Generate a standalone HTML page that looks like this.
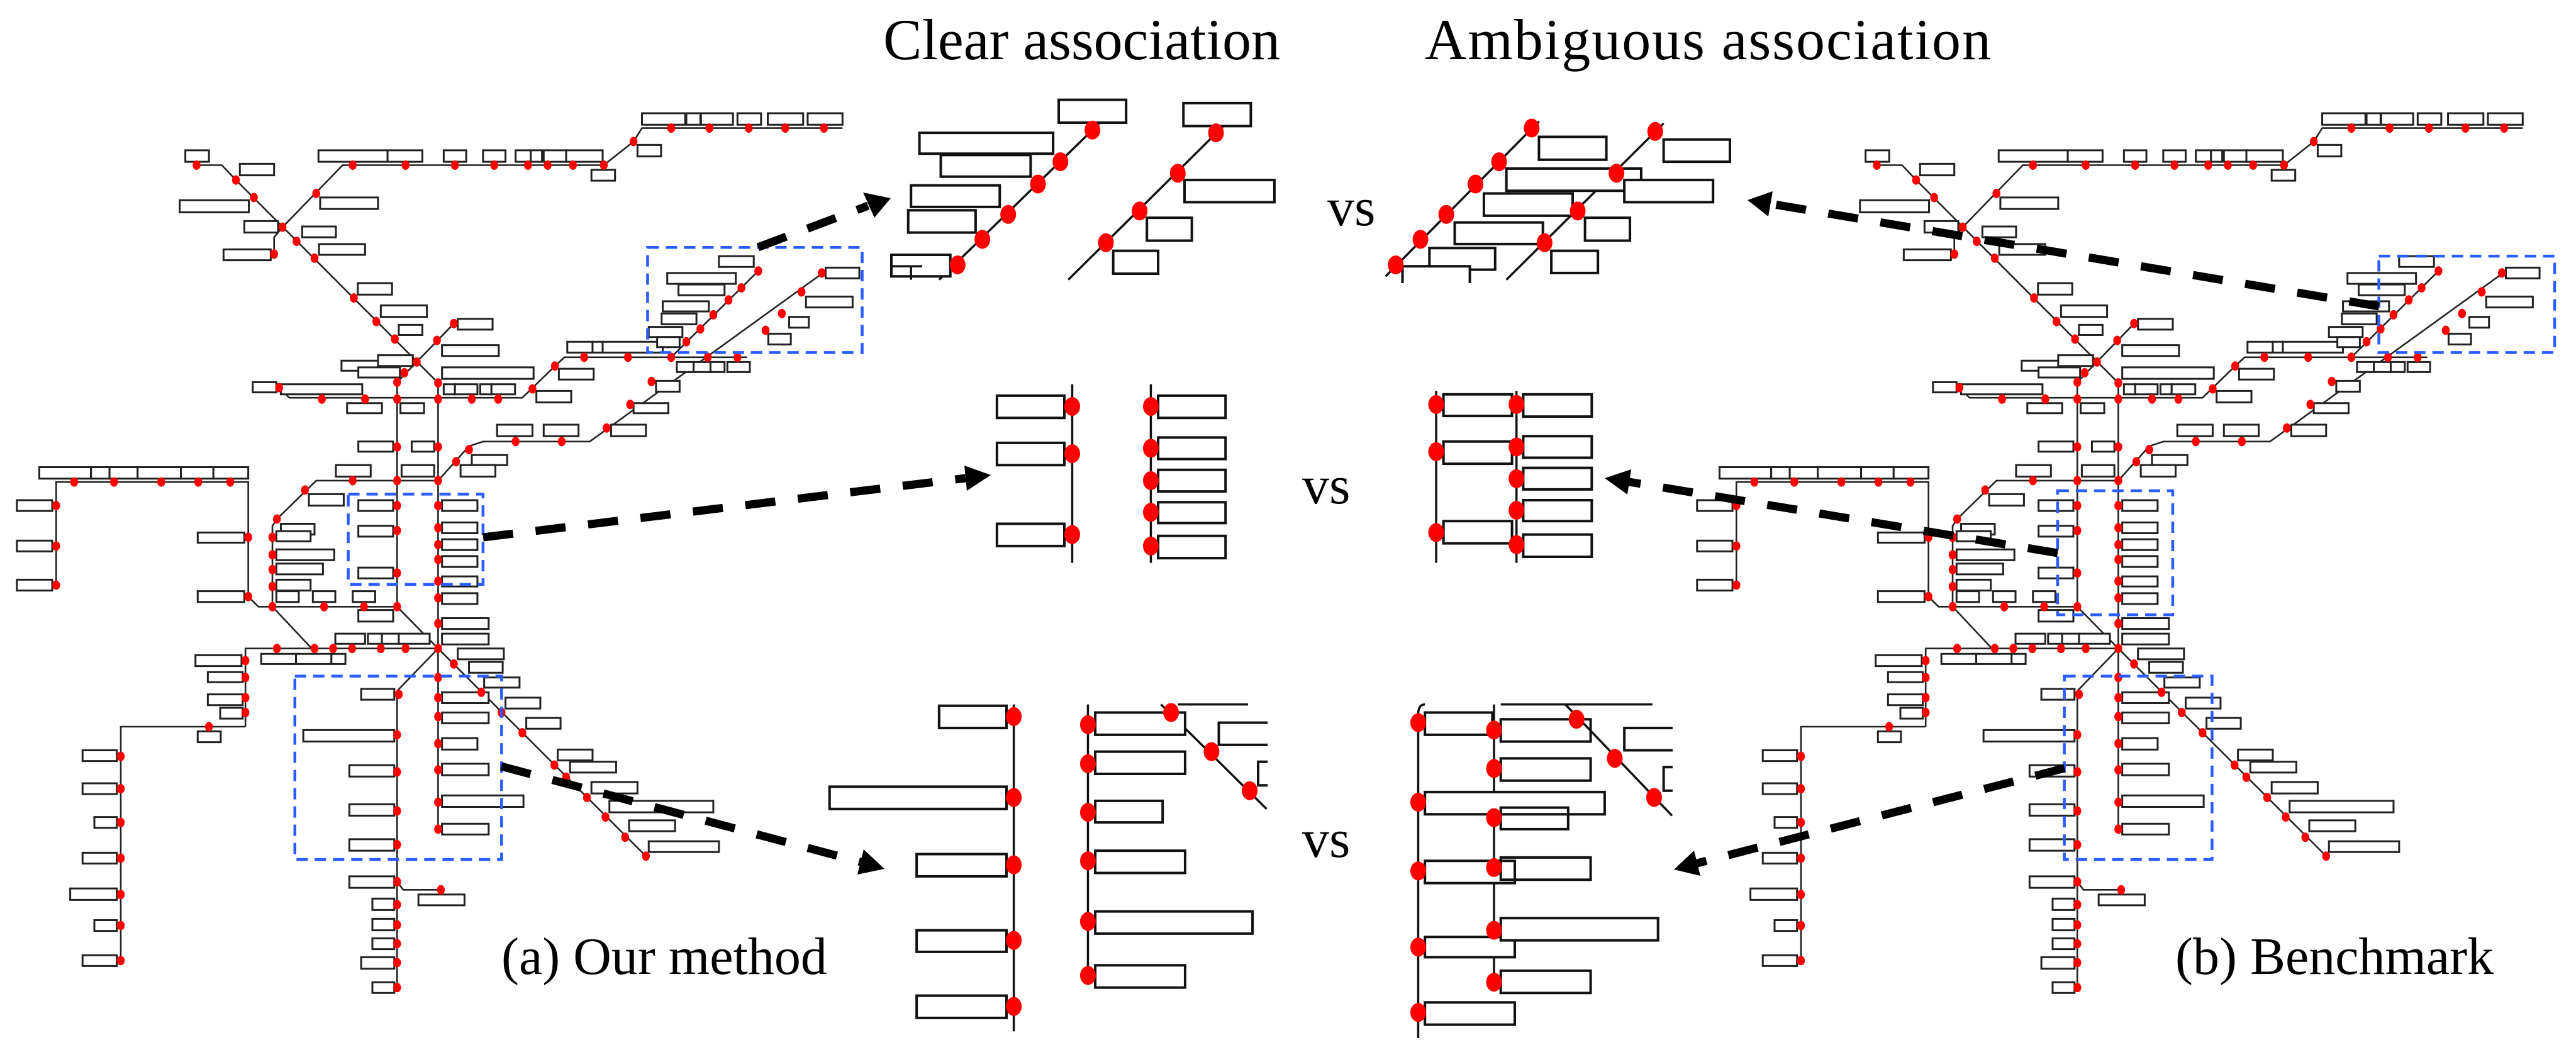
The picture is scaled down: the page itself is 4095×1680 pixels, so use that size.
<!DOCTYPE html>
<html><head><meta charset="utf-8"><style>
html,body{margin:0;padding:0;background:#fff;}
svg{display:block}
svg *{vector-effect:non-scaling-stroke}
.ln{fill:none;stroke:#222;stroke-width:2.6}
.bx rect{fill:#fff;stroke:#222;stroke-width:3}
.dt circle{fill:#ff0000}
.bl{fill:none;stroke:#2a5cff;stroke-width:4.5;stroke-dasharray:18 11}
.pb rect{fill:#fff;stroke:#111;stroke-width:4}
.pl{fill:none;stroke:#111;stroke-width:3.5}
.pd circle{fill:#ff0000}
.ar{fill:none;stroke:#000;stroke-width:13;stroke-dasharray:48 36}
text{font-family:"Liberation Serif",serif;fill:#000}
</style></head><body>
<svg width="4095" height="1680" viewBox="0 0 4095 1680" xmlns="http://www.w3.org/2000/svg">
<defs>
<g id="map">
<path class="ln" d="M1500,190 H1143 L1128,210 L1075,245 H610 L503,337 M350,245 H395 L420,267 L780,568 V1230 M503,337 L488,352 V377 M808,480 L707,567 V900 M497,575 L515,590 H930 L988,543 L1005,530 H1330 M1195,530 L1350,402 M780,713 L835,662 L860,655 H1050 L1465,405 M780,713 H563 L493,770 L485,780 V900 H707 M100,868 V715 H442 V885 L460,900 H485 M485,900 L555,962 M707,900 L780,962 L1150,1270 M437,1078 V962 H780 M437,1078 H215 V1425 M780,962 L707,1025 V1465 M707,1308 L718,1320 H785"/>
<g class="bx">
<rect x="1143" y="168" width="77" height="17"/><rect x="1222" y="168" width="25" height="17"/><rect x="1248" y="168" width="57" height="17"/><rect x="1313" y="168" width="42" height="17"/><rect x="1367" y="168" width="63" height="17"/><rect x="1438" y="168" width="62" height="17"/>
<rect x="1135" y="215" width="42" height="17"/>
<rect x="567" y="223" width="123" height="17"/><rect x="690" y="223" width="62" height="17"/><rect x="790" y="223" width="40" height="17"/><rect x="860" y="223" width="40" height="17"/><rect x="918" y="223" width="27" height="17"/><rect x="945" y="223" width="20" height="17"/><rect x="968" y="223" width="40" height="17"/><rect x="1008" y="223" width="65" height="17"/>
<rect x="1053" y="252" width="42" height="16"/><rect x="570" y="293" width="103" height="17"/>
<rect x="330" y="223" width="42" height="17"/><rect x="427" y="243" width="61" height="17"/><rect x="320" y="297" width="123" height="18"/><rect x="435" y="328" width="60" height="17"/><rect x="538" y="336" width="60" height="16"/><rect x="568" y="362" width="82" height="16"/><rect x="398" y="370" width="84" height="16"/>
<rect x="637" y="420" width="61" height="17"/><rect x="678" y="453" width="82" height="17"/><rect x="710" y="482" width="42" height="15"/>
<rect x="815" y="473" width="62" height="16"/><rect x="787" y="512" width="101" height="16"/><rect x="787" y="545" width="163" height="17"/><rect x="608" y="535" width="102" height="15"/><rect x="638" y="545" width="74" height="15"/><rect x="673" y="527" width="62" height="16"/>
<rect x="450" y="567" width="42" height="15"/><rect x="500" y="570" width="145" height="15"/><rect x="618" y="598" width="62" height="15"/><rect x="713" y="598" width="42" height="15"/><rect x="790" y="570" width="20" height="15"/><rect x="810" y="570" width="40" height="15"/><rect x="855" y="570" width="20" height="15"/><rect x="875" y="570" width="42" height="15"/>
<rect x="955" y="580" width="62" height="17"/><rect x="995" y="547" width="62" height="16"/><rect x="1010" y="507" width="45" height="16"/><rect x="1055" y="507" width="18" height="16"/><rect x="1073" y="507" width="107" height="16"/>
<rect x="1205" y="537" width="30" height="15"/><rect x="1235" y="537" width="30" height="15"/><rect x="1265" y="537" width="25" height="15"/><rect x="1295" y="537" width="40" height="15"/>
<rect x="1280" y="380" width="62" height="16"/><rect x="1188" y="405" width="122" height="16"/><rect x="1208" y="422" width="82" height="16"/><rect x="1180" y="447" width="82" height="15"/><rect x="1178" y="465" width="62" height="16"/><rect x="1155" y="485" width="60" height="15"/><rect x="1170" y="500" width="40" height="15"/>
<rect x="885" y="630" width="63" height="17"/><rect x="968" y="630" width="62" height="17"/><rect x="1088" y="630" width="62" height="17"/><rect x="1128" y="598" width="62" height="15"/><rect x="1168" y="565" width="42" height="16"/><rect x="840" y="675" width="63" height="15"/><rect x="820" y="690" width="62" height="17"/>
<rect x="1405" y="470" width="35" height="16"/><rect x="1435" y="440" width="83" height="16"/><rect x="1470" y="397" width="60" height="16"/><rect x="1368" y="495" width="40" height="16"/>
<rect x="638" y="655" width="62" height="15"/><rect x="733" y="655" width="40" height="15"/><rect x="715" y="690" width="58" height="17"/><rect x="598" y="690" width="62" height="17"/>
<rect x="638" y="742" width="62" height="16"/><rect x="638" y="780" width="62" height="16"/><rect x="638" y="842" width="62" height="16"/><rect x="638" y="905" width="62" height="17"/>
<rect x="787" y="742" width="63" height="16"/><rect x="787" y="775" width="63" height="16"/><rect x="787" y="800" width="63" height="16"/><rect x="787" y="825" width="63" height="16"/><rect x="787" y="855" width="63" height="15"/><rect x="787" y="880" width="63" height="16"/><rect x="787" y="917" width="83" height="16"/><rect x="787" y="940" width="83" height="16"/><rect x="815" y="962" width="82" height="16"/><rect x="835" y="982" width="60" height="16"/>
<rect x="550" y="733" width="62" height="17"/><rect x="500" y="777" width="60" height="16"/><rect x="492" y="788" width="61" height="15"/><rect x="492" y="815" width="103" height="16"/><rect x="492" y="836" width="83" height="16"/><rect x="492" y="860" width="61" height="16"/><rect x="492" y="877" width="40" height="16"/><rect x="557" y="877" width="40" height="16"/><rect x="628" y="877" width="40" height="16"/>
<rect x="70" y="693" width="92" height="17"/><rect x="162" y="693" width="33" height="17"/><rect x="195" y="693" width="50" height="17"/><rect x="245" y="693" width="77" height="17"/><rect x="322" y="693" width="58" height="17"/><rect x="380" y="693" width="62" height="17"/>
<rect x="30" y="742" width="63" height="16"/><rect x="30" y="802" width="63" height="16"/><rect x="30" y="860" width="63" height="16"/><rect x="352" y="790" width="83" height="15"/><rect x="352" y="877" width="83" height="16"/>
<rect x="597" y="940" width="53" height="15"/><rect x="655" y="940" width="25" height="15"/><rect x="680" y="940" width="30" height="15"/><rect x="710" y="940" width="55" height="15"/><rect x="465" y="970" width="62" height="15"/><rect x="527" y="970" width="63" height="15"/><rect x="590" y="970" width="25" height="15"/>
<rect x="348" y="972" width="82" height="16"/><rect x="370" y="997" width="62" height="15"/><rect x="370" y="1030" width="62" height="16"/><rect x="392" y="1050" width="40" height="16"/><rect x="352" y="1085" width="41" height="16"/>
<rect x="147" y="1113" width="61" height="16"/><rect x="147" y="1162" width="61" height="16"/><rect x="168" y="1212" width="40" height="16"/><rect x="147" y="1265" width="61" height="16"/><rect x="125" y="1318" width="83" height="17"/><rect x="168" y="1365" width="40" height="16"/><rect x="147" y="1417" width="61" height="16"/>
<rect x="643" y="1022" width="59" height="16"/><rect x="540" y="1083" width="162" height="17"/><rect x="622" y="1135" width="80" height="17"/><rect x="622" y="1193" width="80" height="17"/><rect x="622" y="1245" width="80" height="17"/><rect x="622" y="1300" width="80" height="17"/><rect x="663" y="1333" width="39" height="17"/><rect x="663" y="1363" width="39" height="17"/><rect x="663" y="1392" width="39" height="16"/><rect x="643" y="1420" width="59" height="17"/><rect x="663" y="1457" width="39" height="16"/><rect x="745" y="1327" width="82" height="16"/>
<rect x="787" y="1027" width="83" height="16"/><rect x="787" y="1057" width="83" height="16"/><rect x="787" y="1095" width="63" height="17"/><rect x="787" y="1133" width="83" height="17"/><rect x="787" y="1180" width="145" height="17"/><rect x="787" y="1222" width="83" height="16"/>
<rect x="862" y="1005" width="63" height="15"/><rect x="900" y="1035" width="62" height="16"/><rect x="937" y="1065" width="61" height="16"/><rect x="993" y="1112" width="62" height="16"/><rect x="1015" y="1130" width="82" height="16"/><rect x="1053" y="1160" width="82" height="17"/><rect x="1085" y="1188" width="185" height="17"/><rect x="1120" y="1217" width="82" height="16"/><rect x="1155" y="1248" width="125" height="16"/>
</g>
<g class="dt">
<circle cx="1195" cy="190" r="7"/><circle cx="1263" cy="190" r="7"/><circle cx="1333" cy="190" r="7"/><circle cx="1398" cy="190" r="7"/><circle cx="1467" cy="190" r="7"/><circle cx="1128" cy="210" r="7"/><circle cx="1075" cy="245" r="7"/><circle cx="1020" cy="245" r="7"/><circle cx="975" cy="245" r="7"/><circle cx="940" cy="245" r="7"/><circle cx="880" cy="245" r="7"/><circle cx="810" cy="245" r="7"/><circle cx="722" cy="245" r="7"/><circle cx="628" cy="245" r="7"/><circle cx="563" cy="287" r="7"/>
<circle cx="350" cy="245" r="7"/><circle cx="420" cy="267" r="7"/><circle cx="452" cy="293" r="7"/><circle cx="503" cy="337" r="7"/><circle cx="528" cy="358" r="7"/><circle cx="560" cy="383" r="7"/><circle cx="488" cy="377" r="7"/><circle cx="630" cy="442" r="7"/><circle cx="670" cy="477" r="7"/><circle cx="703" cy="503" r="7"/><circle cx="742" cy="537" r="7"/><circle cx="808" cy="480" r="7"/><circle cx="778" cy="505" r="7"/><circle cx="720" cy="553" r="7"/><circle cx="707" cy="567" r="7"/><circle cx="780" cy="568" r="7"/>
<circle cx="497" cy="575" r="7"/><circle cx="573" cy="592" r="7"/><circle cx="650" cy="592" r="7"/><circle cx="707" cy="592" r="7"/><circle cx="780" cy="592" r="7"/><circle cx="840" cy="592" r="7"/><circle cx="887" cy="592" r="7"/><circle cx="948" cy="577" r="7"/><circle cx="988" cy="543" r="7"/><circle cx="1040" cy="530" r="7"/><circle cx="1118" cy="530" r="7"/><circle cx="1195" cy="530" r="7"/><circle cx="1260" cy="530" r="7"/><circle cx="1313" cy="530" r="7"/>
<circle cx="1222" cy="507" r="7"/><circle cx="1247" cy="488" r="7"/><circle cx="1270" cy="467" r="7"/><circle cx="1297" cy="445" r="7"/><circle cx="1320" cy="427" r="7"/><circle cx="1350" cy="402" r="7"/>
<circle cx="1363" cy="490" r="7"/><circle cx="1392" cy="465" r="7"/><circle cx="1427" cy="433" r="7"/><circle cx="1463" cy="405" r="7"/><circle cx="1080" cy="635" r="7"/><circle cx="1122" cy="600" r="7"/><circle cx="1160" cy="566" r="7"/>
<circle cx="812" cy="685" r="7"/><circle cx="835" cy="667" r="7"/><circle cx="918" cy="655" r="7"/><circle cx="1000" cy="655" r="7"/>
<circle cx="707" cy="663" r="7"/><circle cx="707" cy="713" r="7"/><circle cx="707" cy="750" r="7"/><circle cx="707" cy="787" r="7"/><circle cx="707" cy="850" r="7"/><circle cx="707" cy="900" r="7"/>
<circle cx="780" cy="663" r="7"/><circle cx="780" cy="713" r="7"/><circle cx="780" cy="750" r="7"/><circle cx="780" cy="783" r="7"/><circle cx="780" cy="808" r="7"/><circle cx="780" cy="830" r="7"/><circle cx="780" cy="862" r="7"/><circle cx="780" cy="887" r="7"/><circle cx="780" cy="925" r="7"/><circle cx="780" cy="962" r="7"/>
<circle cx="543" cy="727" r="7"/><circle cx="628" cy="713" r="7"/><circle cx="493" cy="770" r="7"/><circle cx="485" cy="797" r="7"/><circle cx="485" cy="823" r="7"/><circle cx="485" cy="845" r="7"/><circle cx="485" cy="870" r="7"/><circle cx="485" cy="900" r="7"/><circle cx="577" cy="900" r="7"/><circle cx="648" cy="900" r="7"/>
<circle cx="132" cy="715" r="7"/><circle cx="203" cy="715" r="7"/><circle cx="287" cy="715" r="7"/><circle cx="353" cy="715" r="7"/><circle cx="410" cy="715" r="7"/><circle cx="100" cy="750" r="7"/><circle cx="100" cy="810" r="7"/><circle cx="100" cy="868" r="7"/><circle cx="442" cy="797" r="7"/><circle cx="442" cy="885" r="7"/>
<circle cx="493" cy="962" r="7"/><circle cx="560" cy="962" r="7"/><circle cx="593" cy="962" r="7"/><circle cx="627" cy="962" r="7"/><circle cx="678" cy="962" r="7"/><circle cx="722" cy="962" r="7"/>
<circle cx="437" cy="980" r="7"/><circle cx="437" cy="1005" r="7"/><circle cx="437" cy="1035" r="7"/><circle cx="437" cy="1057" r="7"/><circle cx="372" cy="1078" r="7"/>
<circle cx="215" cy="1122" r="7"/><circle cx="215" cy="1170" r="7"/><circle cx="215" cy="1220" r="7"/><circle cx="215" cy="1273" r="7"/><circle cx="215" cy="1327" r="7"/><circle cx="215" cy="1373" r="7"/><circle cx="215" cy="1425" r="7"/>
<circle cx="710" cy="1030" r="7"/><circle cx="707" cy="1090" r="7"/><circle cx="707" cy="1145" r="7"/><circle cx="707" cy="1203" r="7"/><circle cx="707" cy="1253" r="7"/><circle cx="707" cy="1308" r="7"/><circle cx="707" cy="1342" r="7"/><circle cx="707" cy="1372" r="7"/><circle cx="707" cy="1400" r="7"/><circle cx="707" cy="1428" r="7"/><circle cx="707" cy="1465" r="7"/><circle cx="785" cy="1320" r="7"/>
<circle cx="780" cy="1005" r="7"/><circle cx="780" cy="1035" r="7"/><circle cx="780" cy="1063" r="7"/><circle cx="780" cy="1103" r="7"/><circle cx="780" cy="1142" r="7"/><circle cx="780" cy="1190" r="7"/><circle cx="780" cy="1230" r="7"/>
<circle cx="808" cy="985" r="7"/><circle cx="857" cy="1027" r="7"/><circle cx="893" cy="1057" r="7"/><circle cx="930" cy="1087" r="7"/><circle cx="987" cy="1135" r="7"/><circle cx="1008" cy="1153" r="7"/><circle cx="1045" cy="1183" r="7"/><circle cx="1078" cy="1212" r="7"/><circle cx="1113" cy="1242" r="7"/><circle cx="1150" cy="1270" r="7"/>
</g>
</g>
</defs>

<g transform="scale(0.89286,1.07143)">
<use href="#map"/>
<rect class="bl" x="1153" y="367" width="382" height="156"/>
<rect class="bl" x="620" y="733" width="240" height="134"/>
<rect class="bl" x="525" y="1003" width="368" height="272"/>
</g>
<g transform="translate(2671,0) scale(0.89286,1.07143)">
<use href="#map"/>
</g>
<g transform="translate(2695,0) scale(0.89286,1.07143)">
<rect class="bl" x="1217" y="380" width="313" height="143"/>
<rect class="bl" x="645" y="728" width="205" height="184"/>
<rect class="bl" x="657" y="1003" width="263" height="272"/>
</g>

<g transform="translate(1350,0) scale(0.89286,1.07143)">
<path class="pl" d="M160,415 L445,183 M390,415 L665,188"/>
<g class="pb">
<rect x="373" y="148" width="120" height="34"/><rect x="125" y="197" width="238" height="31"/><rect x="163" y="230" width="160" height="32"/><rect x="110" y="275" width="158" height="32"/><rect x="105" y="312" width="120" height="33"/><rect x="75" y="378" width="105" height="32"/>
<rect x="595" y="153" width="120" height="34"/><rect x="597" y="267" width="160" height="33"/><rect x="530" y="323" width="80" height="34"/><rect x="470" y="372" width="80" height="34"/>
</g>
<path class="pl" d="M75,395 H130 M110,395 V415"/>
<g class="pd"><circle cx="433" cy="193" r="14"/><circle cx="376" cy="240" r="14"/><circle cx="336" cy="273" r="14"/><circle cx="283" cy="318" r="14"/><circle cx="237" cy="355" r="14"/><circle cx="193" cy="393" r="14"/><circle cx="653" cy="197" r="14"/><circle cx="585" cy="257" r="14"/><circle cx="517" cy="313" r="14"/><circle cx="457" cy="360" r="14"/></g>
<path class="pl" d="M955,410 L1228,180 M1170,415 L1450,183"/>
<g class="pb">
<rect x="1228" y="203" width="120" height="34"/><rect x="1450" y="207" width="118" height="33"/><rect x="1170" y="250" width="240" height="33"/><rect x="1380" y="267" width="158" height="33"/><rect x="1130" y="287" width="158" height="33"/><rect x="1310" y="323" width="80" height="34"/><rect x="1078" y="330" width="157" height="32"/><rect x="1033" y="368" width="117" height="32"/><rect x="1250" y="372" width="83" height="33"/><rect x="985" y="395" width="120" height="30"/>
</g>
<path class="pl" d="M1170,250 H1410 M1380,267 V283"/>
<g class="pd"><circle cx="1215" cy="190" r="14"/><circle cx="1157" cy="240" r="14"/><circle cx="1115" cy="273" r="14"/><circle cx="1063" cy="318" r="14"/><circle cx="1017" cy="355" r="14"/><circle cx="973" cy="393" r="14"/><circle cx="1435" cy="195" r="14"/><circle cx="1366" cy="257" r="14"/><circle cx="1297" cy="313" r="14"/><circle cx="1238" cy="360" r="14"/></g>
<rect x="940" y="420" width="640" height="20" fill="#fff"/>
<rect x="60" y="418" width="700" height="20" fill="#fff"/>

<path class="pl" d="M397,570 V835 M537,570 V835"/>
<g class="pb">
<rect x="263" y="587" width="120" height="33"/><rect x="263" y="657" width="120" height="33"/><rect x="263" y="777" width="120" height="33"/>
<rect x="550" y="587" width="120" height="33"/><rect x="550" y="649" width="120" height="32"/><rect x="550" y="697" width="120" height="32"/><rect x="550" y="745" width="120" height="31"/><rect x="550" y="795" width="120" height="33"/>
</g>
<g class="pd"><circle cx="397" cy="603" r="14"/><circle cx="397" cy="673" r="14"/><circle cx="397" cy="793" r="14"/><circle cx="537" cy="603" r="14"/><circle cx="537" cy="665" r="14"/><circle cx="537" cy="713" r="14"/><circle cx="537" cy="760" r="14"/><circle cx="537" cy="810" r="14"/></g>
<path class="pl" d="M1045,580 V835 M1188,580 V835"/>
<g class="pb">
<rect x="1058" y="585" width="122" height="32"/><rect x="1058" y="655" width="122" height="33"/><rect x="1058" y="773" width="122" height="33"/>
<rect x="1200" y="585" width="122" height="33"/><rect x="1200" y="647" width="122" height="32"/><rect x="1200" y="694" width="122" height="32"/><rect x="1200" y="742" width="122" height="31"/><rect x="1200" y="793" width="122" height="33"/>
</g>
<g class="pd"><circle cx="1045" cy="600" r="14"/><circle cx="1045" cy="670" r="14"/><circle cx="1045" cy="790" r="14"/><circle cx="1188" cy="600" r="14"/><circle cx="1188" cy="663" r="14"/><circle cx="1188" cy="710" r="14"/><circle cx="1188" cy="757" r="14"/><circle cx="1188" cy="808" r="14"/></g>

<path class="pl" d="M293,1045 V1530 M425,1045 V1460 M585,1045 H710 M555,1045 L743,1200"/>
<g class="pb">
<rect x="160" y="1047" width="120" height="33"/><rect x="-35" y="1167" width="315" height="33"/><rect x="120" y="1267" width="160" height="33"/><rect x="120" y="1380" width="160" height="32"/><rect x="120" y="1477" width="160" height="33"/>
<rect x="438" y="1057" width="160" height="33"/><rect x="438" y="1115" width="160" height="33"/><rect x="438" y="1188" width="120" height="32"/><rect x="438" y="1262" width="160" height="33"/><rect x="438" y="1352" width="280" height="33"/><rect x="438" y="1432" width="160" height="33"/>
<rect x="658" y="1072" width="100" height="33"/><rect x="728" y="1130" width="30" height="35"/>
</g>
<rect x="745" y="1040" width="60" height="170" fill="#fff"/>
<g class="pd"><circle cx="293" cy="1063" r="14"/><circle cx="293" cy="1183" r="14"/><circle cx="293" cy="1283" r="14"/><circle cx="293" cy="1395" r="14"/><circle cx="293" cy="1493" r="14"/><circle cx="425" cy="1075" r="14"/><circle cx="425" cy="1133" r="14"/><circle cx="425" cy="1205" r="14"/><circle cx="425" cy="1277" r="14"/><circle cx="425" cy="1367" r="14"/><circle cx="425" cy="1447" r="14"/><circle cx="573" cy="1057" r="14"/><circle cx="645" cy="1115" r="14"/><circle cx="713" cy="1173" r="14"/></g>
<path class="pl" d="M1013,1540 V1060 Q1013,1045 1025,1045 M1148,1045 V1465 M1160,1045 H1430 M1275,1045 L1465,1210"/>
<g class="pb">
<rect x="1025" y="1057" width="120" height="33"/><rect x="1025" y="1175" width="320" height="33"/><rect x="1025" y="1277" width="160" height="33"/><rect x="1025" y="1390" width="160" height="30"/><rect x="1025" y="1487" width="160" height="33"/>
<rect x="1160" y="1067" width="160" height="33" style="fill:none"/><rect x="1160" y="1125" width="160" height="33"/><rect x="1160" y="1198" width="120" height="32" style="fill:none"/><rect x="1160" y="1272" width="160" height="33" style="fill:none"/><rect x="1160" y="1362" width="280" height="33"/><rect x="1160" y="1440" width="160" height="33"/>
<rect x="1380" y="1080" width="100" height="33"/><rect x="1450" y="1138" width="30" height="35"/>
</g>
<rect x="1466" y="1040" width="60" height="180" fill="#fff"/>
<g class="pd"><circle cx="1013" cy="1072" r="14"/><circle cx="1013" cy="1190" r="14"/><circle cx="1013" cy="1292" r="14"/><circle cx="1013" cy="1405" r="14"/><circle cx="1013" cy="1502" r="14"/><circle cx="1148" cy="1083" r="14"/><circle cx="1148" cy="1140" r="14"/><circle cx="1148" cy="1213" r="14"/><circle cx="1148" cy="1287" r="14"/><circle cx="1148" cy="1380" r="14"/><circle cx="1148" cy="1457" r="14"/><circle cx="1295" cy="1067" r="14"/><circle cx="1363" cy="1125" r="14"/><circle cx="1433" cy="1183" r="14"/></g>
</g>

<path class="ar" d="M1205,393 L1380,327"/>
<polygon points="1416,315 1372,306 1390,346"/>
<path class="ar" d="M768,854 L1535,760"/>
<polygon points="1575,755 1533,740 1537,780"/>
<path class="ar" d="M797,1218 L1368,1370"/>
<polygon points="1406,1381 1373,1350 1363,1390"/>
<path class="ar" d="M3782,487 L2815,324"/>
<polygon points="2778,318 2818,304 2811,344"/>
<path class="ar" d="M3271,879 L2590,766"/>
<polygon points="2551,760 2593,746 2587,786"/>
<path class="ar" d="M3282,1221 L2698,1372"/>
<polygon points="2661,1382 2693,1352 2703,1392"/>

<text x="1404" y="94" font-size="92">Clear association</text>
<text x="2265" y="94" font-size="92" textLength="900" lengthAdjust="spacing">Ambiguous association</text>
<text x="2110" y="358" font-size="86">vs</text>
<text x="2070" y="800" font-size="86">vs</text>
<text x="2070" y="1362" font-size="86">vs</text>
<text x="797" y="1548" font-size="84">(a) Our method</text>
<text x="3458" y="1548" font-size="84">(b) Benchmark</text>
</svg>
</body></html>
